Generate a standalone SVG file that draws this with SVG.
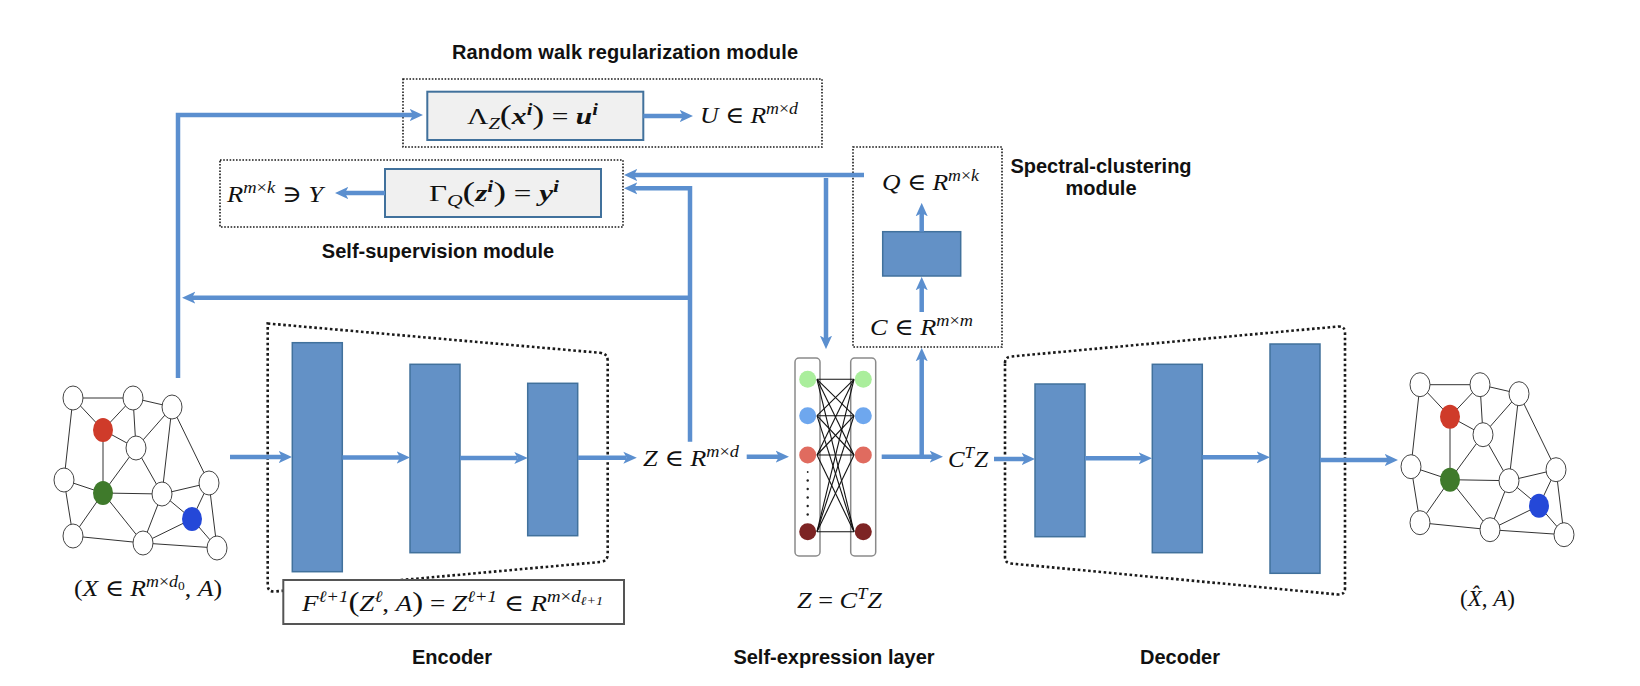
<svg xmlns="http://www.w3.org/2000/svg" xmlns:xlink="http://www.w3.org/1999/xlink" width="1640" height="686" viewBox="0 0 1640 686">
<style>
.ln{fill:none;stroke:#5b8fcf;stroke-width:4.5;stroke-linejoin:miter;marker-end:url(#ah)}
.dot{fill:none;stroke:#1a1a1a;stroke-width:1.6;stroke-dasharray:1.6 1.6}
.dotb{fill:none;stroke:#1a1a1a;stroke-width:2.6;stroke-dasharray:2.6 2.6}
.blk{fill:#6391c6;stroke:#41719c;stroke-width:1.5}
.gbox{fill:#f0f0f0;stroke:#41719c;stroke-width:2}
.lbl{font-family:"Liberation Sans",Arial,sans-serif;font-weight:bold;font-size:20px;fill:#111}
.m{font-family:"Liberation Serif","DejaVu Serif",serif;font-size:23px;fill:#111}
.i{font-style:italic}
.b{font-weight:bold}
.s{font-size:16px}
.ge{stroke:#333;stroke-width:1;fill:none}
.gn{fill:#fff;stroke:#444;stroke-width:1}
.col{fill:#fff;stroke:#8a8a8a;stroke-width:1.5}
.sx{stroke:#111;stroke-width:1.1}
</style>
<defs>
<marker id="ah" viewBox="0 0 10 10" refX="2.5" refY="5" markerWidth="3" markerHeight="3" orient="auto" markerUnits="strokeWidth">
<path d="M0,0.5 L10,5 L0,9.5 L2.5,5 z" fill="#5b8fcf"/>
</marker>
<g id="graph">
<g class="ge">
<line x1="73" y1="398" x2="133" y2="398"/>
<line x1="133" y1="398" x2="172" y2="407"/>
<line x1="73" y1="398" x2="103" y2="430"/>
<line x1="133" y1="398" x2="103" y2="430"/>
<line x1="133" y1="398" x2="136" y2="448"/>
<line x1="103" y1="430" x2="136" y2="448"/>
<line x1="172" y1="407" x2="136" y2="448"/>
<line x1="172" y1="407" x2="162" y2="494"/>
<line x1="172" y1="407" x2="209" y2="483"/>
<line x1="73" y1="398" x2="64" y2="480"/>
<line x1="103" y1="430" x2="103" y2="493"/>
<line x1="64" y1="480" x2="103" y2="493"/>
<line x1="136" y1="448" x2="103" y2="493"/>
<line x1="103" y1="493" x2="162" y2="494"/>
<line x1="136" y1="448" x2="162" y2="494"/>
<line x1="64" y1="480" x2="73" y2="536"/>
<line x1="103" y1="493" x2="73" y2="536"/>
<line x1="103" y1="493" x2="143" y2="543"/>
<line x1="162" y1="494" x2="143" y2="543"/>
<line x1="162" y1="494" x2="209" y2="483"/>
<line x1="162" y1="494" x2="192" y2="519"/>
<line x1="209" y1="483" x2="192" y2="519"/>
<line x1="209" y1="483" x2="217" y2="548"/>
<line x1="192" y1="519" x2="217" y2="548"/>
<line x1="73" y1="536" x2="143" y2="543"/>
<line x1="143" y1="543" x2="192" y2="519"/>
<line x1="143" y1="543" x2="217" y2="548"/>
</g>
<ellipse class="gn" cx="73" cy="398" rx="10" ry="12"/>
<ellipse class="gn" cx="133" cy="398" rx="10" ry="12"/>
<ellipse class="gn" cx="172" cy="407" rx="10" ry="12"/>
<ellipse cx="103" cy="430" rx="10" ry="12" fill="#cf3b2a"/>
<ellipse class="gn" cx="136" cy="448" rx="10" ry="12"/>
<ellipse class="gn" cx="64" cy="480" rx="10" ry="12"/>
<ellipse cx="103" cy="493" rx="10" ry="12" fill="#3f7a2b"/>
<ellipse class="gn" cx="162" cy="494" rx="10" ry="12"/>
<ellipse class="gn" cx="209" cy="483" rx="10" ry="12"/>
<ellipse cx="192" cy="519" rx="10" ry="12" fill="#2448d8"/>
<ellipse class="gn" cx="73" cy="536" rx="10" ry="12"/>
<ellipse class="gn" cx="143" cy="543" rx="10" ry="12"/>
<ellipse class="gn" cx="217" cy="548" rx="10" ry="12"/>
</g>
</defs>
<rect width="1640" height="686" fill="#fff"/>

<g id="input-graph">
<use xlink:href="#graph" href="#graph"/>
<text class="m" x="74" y="596" textLength="148" lengthAdjust="spacingAndGlyphs">(<tspan class="i">X</tspan> ∈ <tspan class="i">R</tspan><tspan class="s i" dy="-9">m</tspan><tspan class="s">×</tspan><tspan class="s i">d</tspan><tspan font-size="12" dy="3">0</tspan><tspan dy="6">, </tspan><tspan class="i">A</tspan>)</text>
</g>

<g id="output-graph">
<use xlink:href="#graph" href="#graph" transform="translate(1347,-13.3)"/>
<text class="m" x="1460" y="606" textLength="55" lengthAdjust="spacingAndGlyphs">(<tspan class="i">X̂</tspan>, <tspan class="i">A</tspan>)</text>
</g>

<g id="random-walk-module">
<text class="lbl" x="625" y="59" text-anchor="middle" textLength="346">Random walk regularization module</text>
<rect class="dot" x="403" y="79" width="419" height="68"/>
<rect class="gbox" x="427.3" y="91.7" width="216" height="48.3"/>
<text class="m" x="467" y="124" textLength="131" lengthAdjust="spacingAndGlyphs">Λ<tspan class="s i" dy="5">Z</tspan><tspan dy="-5" font-size="28">(</tspan><tspan class="i b">x</tspan><tspan class="s i b" dy="-9">i</tspan><tspan dy="9" font-size="28">)</tspan> = <tspan class="i b">u</tspan><tspan class="s i b" dy="-9">i</tspan></text>
<text class="m" x="700" y="123" textLength="98" lengthAdjust="spacingAndGlyphs"><tspan class="i">U</tspan> ∈ <tspan class="i">R</tspan><tspan class="s i" dy="-9">m</tspan><tspan class="s">×</tspan><tspan class="s i">d</tspan></text>
</g>

<g id="self-supervision-module">
<rect class="dot" x="220" y="160" width="403" height="67"/>
<rect class="gbox" x="385" y="169" width="216" height="48"/>
<text class="m" x="429" y="201" textLength="130" lengthAdjust="spacingAndGlyphs">Γ<tspan class="s i" dy="5">Q</tspan><tspan dy="-5" font-size="28">(</tspan><tspan class="i b">z</tspan><tspan class="s i b" dy="-9">i</tspan><tspan dy="9" font-size="28">)</tspan> = <tspan class="i b">y</tspan><tspan class="s i b" dy="-9">i</tspan></text>
<text class="m" x="227" y="202" textLength="96" lengthAdjust="spacingAndGlyphs"><tspan class="i">R</tspan><tspan class="s i" dy="-9">m</tspan><tspan class="s">×</tspan><tspan class="s i">k</tspan><tspan dy="9"> ∋ </tspan><tspan class="i">Y</tspan></text>
<text class="lbl" x="438" y="258" text-anchor="middle">Self-supervision module</text>
</g>

<g id="spectral-clustering-module">
<rect class="dot" x="853" y="147" width="149" height="200"/>
<text class="m" x="882" y="190" textLength="97" lengthAdjust="spacingAndGlyphs"><tspan class="i">Q</tspan> ∈ <tspan class="i">R</tspan><tspan class="s i" dy="-9">m</tspan><tspan class="s">×</tspan><tspan class="s i">k</tspan></text>
<rect class="blk" x="882.7" y="231.7" width="78" height="44.3"/>
<text class="m" x="870" y="335" textLength="103" lengthAdjust="spacingAndGlyphs"><tspan class="i">C</tspan> ∈ <tspan class="i">R</tspan><tspan class="s i" dy="-9">m</tspan><tspan class="s">×</tspan><tspan class="s i">m</tspan></text>
<text class="lbl" x="1101" y="173" text-anchor="middle">Spectral-clustering</text>
<text class="lbl" x="1101" y="195" text-anchor="middle">module</text>
</g>

<g id="encoder">
<path class="dotb" d="M267.7,323.5 L600,352.8 Q607.7,353.5 607.7,361 L607.7,554 Q607.7,561.5 600,562 L275,591.5 Q267.7,592 267.7,585 Z"/>
<rect class="blk" x="292.3" y="342.7" width="50" height="229"/>
<rect class="blk" x="410" y="364.3" width="50" height="188.4"/>
<rect class="blk" x="527.7" y="383.3" width="50" height="152.4"/>
<rect x="283.3" y="580" width="340.7" height="44" fill="#fff" stroke="#555" stroke-width="2"/>
<text class="m" x="302" y="611" textLength="301" lengthAdjust="spacingAndGlyphs"><tspan class="i">F</tspan><tspan class="s i" dy="-9">ℓ+1</tspan><tspan dy="9" font-size="28">(</tspan><tspan class="i">Z</tspan><tspan class="s i" dy="-9">ℓ</tspan><tspan dy="9">, </tspan><tspan class="i">A</tspan><tspan font-size="28">)</tspan> = <tspan class="i">Z</tspan><tspan class="s i" dy="-9">ℓ+1</tspan><tspan dy="9"> ∈ </tspan><tspan class="i">R</tspan><tspan class="s i" dy="-9">m</tspan><tspan class="s">×</tspan><tspan class="s i">d</tspan><tspan class="i" font-size="12" dy="3">ℓ+1</tspan></text>
<text class="lbl" x="452" y="664" text-anchor="middle">Encoder</text>
<text class="m" x="643" y="466" textLength="96" lengthAdjust="spacingAndGlyphs"><tspan class="i">Z</tspan> ∈ <tspan class="i">R</tspan><tspan class="s i" dy="-9">m</tspan><tspan class="s">×</tspan><tspan class="s i">d</tspan></text>
</g>

<g id="self-expression-layer">
<rect class="col" x="795" y="358" width="25" height="198" rx="4"/>
<rect class="col" x="850.7" y="358" width="25" height="198" rx="4"/>
<g class="sx">
<line x1="817" y1="379.3" x2="854" y2="379.3"/><line x1="817" y1="379.3" x2="854" y2="415.7"/><line x1="817" y1="379.3" x2="854" y2="455"/><line x1="817" y1="379.3" x2="854" y2="531.7"/>
<line x1="817" y1="415.7" x2="854" y2="379.3"/><line x1="817" y1="415.7" x2="854" y2="415.7"/><line x1="817" y1="415.7" x2="854" y2="455"/><line x1="817" y1="415.7" x2="854" y2="531.7"/>
<line x1="817" y1="455" x2="854" y2="379.3"/><line x1="817" y1="455" x2="854" y2="415.7"/><line x1="817" y1="455" x2="854" y2="455"/><line x1="817" y1="455" x2="854" y2="531.7"/>
<line x1="817" y1="531.7" x2="854" y2="379.3"/><line x1="817" y1="531.7" x2="854" y2="415.7"/><line x1="817" y1="531.7" x2="854" y2="455"/><line x1="817" y1="531.7" x2="854" y2="531.7"/>
</g>
<circle cx="807.7" cy="379.3" r="8.5" fill="#aaee9c"/>
<circle cx="807.7" cy="415.7" r="8.5" fill="#6ea7ee"/>
<circle cx="807.7" cy="455" r="8.5" fill="#e06b5f"/>
<circle cx="807.7" cy="531.7" r="8.5" fill="#7d2424"/>
<circle cx="863.3" cy="379.3" r="8.5" fill="#aaee9c"/>
<circle cx="863.3" cy="415.7" r="8.5" fill="#6ea7ee"/>
<circle cx="863.3" cy="455" r="8.5" fill="#e06b5f"/>
<circle cx="863.3" cy="531.7" r="8.5" fill="#7d2424"/>
<g fill="#222">
<circle cx="807.7" cy="472" r="0.9"/><circle cx="807.7" cy="480.5" r="1.2"/><circle cx="807.7" cy="489" r="1.2"/><circle cx="807.7" cy="497.5" r="1.2"/><circle cx="807.7" cy="506" r="1.2"/><circle cx="807.7" cy="514.5" r="1.2"/>
</g>
<text class="m" x="797" y="608" textLength="85" lengthAdjust="spacingAndGlyphs"><tspan class="i">Z</tspan> = <tspan class="i">C</tspan><tspan class="s i" dy="-9">T</tspan><tspan class="i" dy="9">Z</tspan></text>
<text class="lbl" x="834" y="664" text-anchor="middle">Self-expression layer</text>
<text class="m" x="948" y="467" textLength="40" lengthAdjust="spacingAndGlyphs"><tspan class="i">C</tspan><tspan class="s i" dy="-9">T</tspan><tspan class="i" dy="9">Z</tspan></text>
</g>

<g id="decoder">
<path class="dotb" d="M1005,363 Q1005,357 1011,356.5 L1338,326.5 Q1345,326 1345,333 L1345,588 Q1345,595 1338,594.5 L1011,563.5 Q1005,563 1005,557 Z"/>
<rect class="blk" x="1035" y="384" width="50" height="152.7"/>
<rect class="blk" x="1152.3" y="364.3" width="50" height="188.4"/>
<rect class="blk" x="1270" y="344" width="50" height="229.3"/>
<text class="lbl" x="1180" y="664" text-anchor="middle">Decoder</text>
</g>

<g id="connectors">
<path class="ln" d="M230,457 H282"/>
<path class="ln" d="M342.3,457.5 H400"/>
<path class="ln" d="M460,458 H517.7"/>
<path class="ln" d="M577.7,457.7 H626.7"/>
<path class="ln" d="M746.7,456.7 H779"/>
<path class="ln" d="M881.7,456.7 H933"/>
<path class="ln" d="M921.7,458 V358"/>
<path class="ln" d="M994,459 H1025"/>
<path class="ln" d="M1085,458.3 H1142"/>
<path class="ln" d="M1202.3,457.3 H1260"/>
<path class="ln" d="M1320,460 H1388"/>
<path class="ln" d="M178,378 V115 H413"/>
<path class="ln" d="M643.3,116 H683"/>
<path class="ln" d="M385,193 H345"/>
<path class="ln" d="M690,441.7 V188.3 H634"/>
<path class="ln" d="M690,297.7 H192"/>
<path class="ln" d="M864,175 H634"/>
<path class="ln" d="M826,178 V339"/>
<path class="ln" d="M921.7,312 V287"/>
<path class="ln" d="M921.7,231.7 V213"/>
</g>
</svg>
